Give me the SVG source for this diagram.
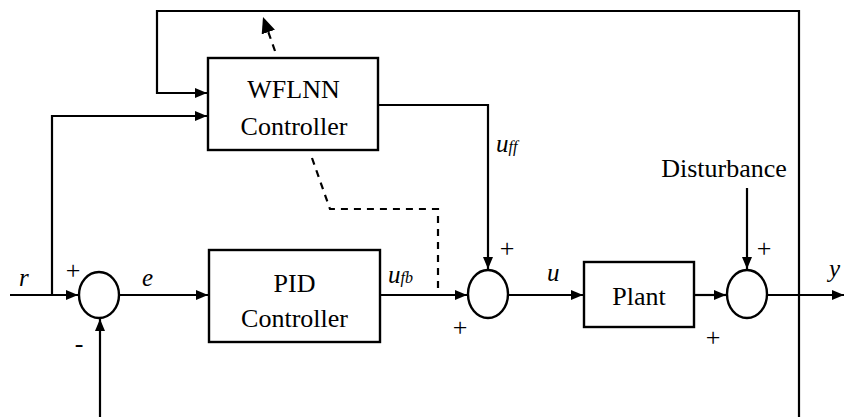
<svg xmlns="http://www.w3.org/2000/svg" width="844" height="417" viewBox="0 0 844 417">
<defs>
<marker id="arr" markerUnits="userSpaceOnUse" markerWidth="14" markerHeight="12" refX="12" refY="5" orient="auto">
<path d="M0,0 L12,5 L0,10 Z" fill="#000"/>
</marker>
<marker id="arrB" markerUnits="userSpaceOnUse" markerWidth="18" markerHeight="18" refX="16" refY="7" orient="auto">
<path d="M0,0 L16,7 L0,14 Z" fill="#000"/>
</marker>
<style>
.ln{fill:none;stroke:#000;stroke-width:2.2}
.ds{fill:none;stroke:#000;stroke-width:2.2;stroke-dasharray:7,6}
.box{fill:#fff;stroke:#000;stroke-width:2.4}
.sum{fill:#fff;stroke:#000;stroke-width:2.4}
text{font-family:"Liberation Serif","Times New Roman",serif;fill:#000}
.t{font-size:26px}
.c{text-anchor:middle}
.i{font-style:italic;font-size:25px}
.s{font-size:16px}
.p{font-size:26px;text-anchor:middle}
</style>
</defs>
<rect width="844" height="417" fill="#fff"/>
<g id="connectors">
<path class="ln" d="M799,417 L799,11 L157,11 L157,93 L207,93" marker-end="url(#arr)"/>
<path class="ln" d="M52,295 L52,116 L207,116" marker-end="url(#arr)"/>
<path class="ln" d="M10,295 L78,295" marker-end="url(#arr)"/>
<path class="ln" d="M100,417 L100,319" marker-end="url(#arr)"/>
<path class="ln" d="M119,295 L208,295" marker-end="url(#arr)"/>
<path class="ln" d="M380,295 L467,295" marker-end="url(#arr)"/>
<path class="ln" d="M378,105 L488,105 L488,269" marker-end="url(#arr)"/>
<path class="ln" d="M508,295 L583,295" marker-end="url(#arr)"/>
<path class="ln" d="M694,295 L726,295" marker-end="url(#arr)"/>
<path class="ln" d="M747,188 L747,269" marker-end="url(#arr)"/>
<path class="ln" d="M767,295 L844,295" marker-end="url(#arr)"/>
<path class="ds" d="M312,158 L330,209 L438,209 L438,293"/>
<path class="ds" d="M275,51 L263,17" marker-end="url(#arrB)"/>
</g>
<g id="wflnn">
<rect class="box" x="208" y="58" width="170" height="92"/>
<text class="t c" x="293.5" y="98">WFLNN</text>
<text class="t c" x="294" y="135">Controller</text>
</g>
<g id="pid">
<rect class="box" x="209" y="250" width="171" height="92"/>
<text class="t c" x="294.5" y="292">PID</text>
<text class="t c" x="294.5" y="327">Controller</text>
</g>
<g id="plant">
<rect class="box" x="584" y="262" width="110" height="65"/>
<text class="t c" x="639" y="305">Plant</text>
</g>
<g id="sum1">
<ellipse class="sum" cx="99" cy="295" rx="20" ry="23"/>
</g>
<g id="sum2">
<ellipse class="sum" cx="488" cy="294" rx="20" ry="24"/>
</g>
<g id="sum3">
<ellipse class="sum" cx="747" cy="294" rx="20" ry="24"/>
</g>
<g id="labels">
<text class="i" x="19" y="286">r</text>
<text class="i" x="142" y="286">e</text>
<text class="i" x="388" y="283">u<tspan class="s">fb</tspan></text>
<text class="i" x="496" y="152">u<tspan class="s">ff</tspan></text>
<text class="i" x="547" y="281">u</text>
<text class="i" x="829" y="277">y</text>
<text class="t c" x="724" y="177">Disturbance</text>
<text class="p" x="73" y="279">+</text>
<text class="p" x="79" y="352">-</text>
<text class="p" x="507" y="257">+</text>
<text class="p" x="460" y="336">+</text>
<text class="p" x="764" y="257">+</text>
<text class="p" x="713" y="346">+</text>
</g>
</svg>
